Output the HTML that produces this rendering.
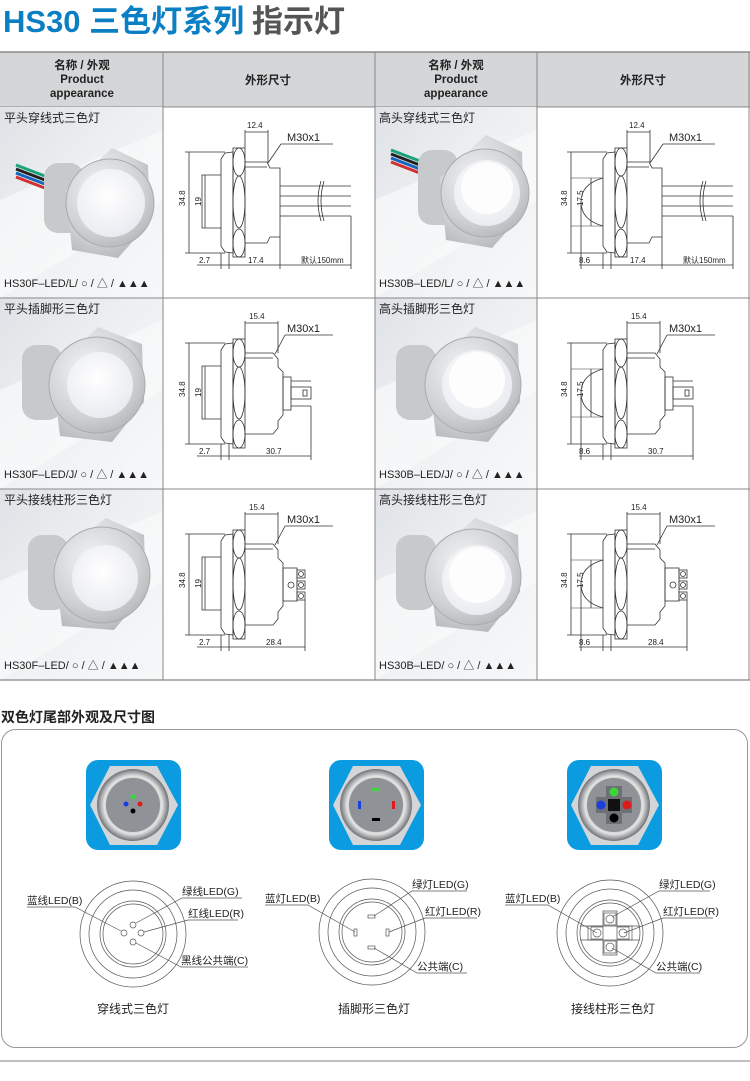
<!DOCTYPE html>
<html><head><meta charset="utf-8">
<style>
html,body{margin:0;padding:0;background:#fff;}
svg{display:block;}
text{font-family:"Liberation Sans","Noto Sans CJK SC",sans-serif;}
</style></head>
<body>
<svg width="750" height="1081" viewBox="0 0 750 1081" xmlns="http://www.w3.org/2000/svg">
<defs>
<linearGradient id="pbg" x1="0" y1="0" x2="1" y2="1">
<stop offset="0" stop-color="#dfe2e6"/><stop offset="0.45" stop-color="#eef0f2"/><stop offset="1" stop-color="#f7f8f9"/>
</linearGradient>
<radialGradient id="metal" cx="0.4" cy="0.35" r="0.8">
<stop offset="0" stop-color="#f4f4f4"/><stop offset="0.6" stop-color="#cfd1d3"/><stop offset="1" stop-color="#a9acaf"/>
</radialGradient>
<radialGradient id="lens" cx="0.45" cy="0.4" r="0.7">
<stop offset="0" stop-color="#ffffff"/><stop offset="1" stop-color="#e6e8ee"/>
</radialGradient>
<radialGradient id="ring" cx="0.5" cy="0.5" r="0.5">
<stop offset="0.6" stop-color="#8d8f92"/><stop offset="0.8" stop-color="#e5e5e5"/><stop offset="1" stop-color="#6f7275"/>
</radialGradient>
</defs>

<!-- Title -->
<text x="3" y="32" font-size="31" font-weight="bold" fill="#0a7fc4">HS30 三色灯系列</text>
<text x="252" y="32" font-size="31" font-weight="bold" fill="#555">指示灯</text>

<!-- Table header -->
<rect x="0" y="52" width="750" height="55" fill="#d4d6d8"/>
<line x1="0" y1="52" x2="750" y2="52" stroke="#777" stroke-width="1.2"/>
<line x1="0" y1="107" x2="750" y2="107" stroke="#888" stroke-width="1"/>
<g font-size="11.5" font-weight="bold" fill="#222" text-anchor="middle">
<text x="82" y="69">名称 / 外观</text><text x="82" y="83">Product</text><text x="82" y="97">appearance</text>
<text x="268" y="84">外形尺寸</text>
<text x="456" y="69">名称 / 外观</text><text x="456" y="83">Product</text><text x="456" y="97">appearance</text>
<text x="643" y="84">外形尺寸</text>
</g>

<!-- Photo cell backgrounds -->
<g>
<rect x="0" y="107" width="163" height="191" fill="url(#pbg)"/>
<rect x="375" y="107" width="162" height="191" fill="url(#pbg)"/>
<rect x="0" y="298" width="163" height="191" fill="url(#pbg)"/>
<rect x="375" y="298" width="162" height="191" fill="url(#pbg)"/>
<rect x="0" y="489" width="163" height="191" fill="url(#pbg)"/>
<rect x="375" y="489" width="162" height="191" fill="url(#pbg)"/>
<polygon points="0,200 163,130 163,200 0,298" fill="#fafbfc" opacity="0.6"/>
<polygon points="375,200 537,130 537,200 375,298" fill="#fafbfc" opacity="0.6"/>
<polygon points="0,390 163,320 163,390 0,489" fill="#fafbfc" opacity="0.6"/>
<polygon points="375,390 537,320 537,390 375,489" fill="#fafbfc" opacity="0.6"/>
<polygon points="0,581 163,511 163,581 0,680" fill="#fafbfc" opacity="0.6"/>
<polygon points="375,581 537,511 537,581 375,680" fill="#fafbfc" opacity="0.6"/>
</g>

<!-- grid lines -->
<g stroke="#888" stroke-width="1">
<line x1="0" y1="298" x2="750" y2="298"/>
<line x1="0" y1="489" x2="750" y2="489"/>
<line x1="0" y1="680" x2="750" y2="680" stroke-width="1.3"/>
<line x1="163" y1="52" x2="163" y2="680"/>
<line x1="375" y1="52" x2="375" y2="680"/>
<line x1="537" y1="52" x2="537" y2="680"/>
<line x1="749" y1="52" x2="749" y2="680"/>
</g>

<!-- Cell labels -->
<g font-size="12" fill="#222">
<text x="4" y="122">平头穿线式三色灯</text>
<text x="379" y="122">高头穿线式三色灯</text>
<text x="4" y="313">平头插脚形三色灯</text>
<text x="379" y="313">高头插脚形三色灯</text>
<text x="4" y="504">平头接线柱形三色灯</text>
<text x="379" y="504">高头接线柱形三色灯</text>
</g>
<g font-size="11" fill="#222">
<text x="4" y="287">HS30F–LED/L/ ○ / △ / ▲▲▲</text>
<text x="379" y="287">HS30B–LED/L/ ○ / △ / ▲▲▲</text>
<text x="4" y="478">HS30F–LED/J/ ○ / △ / ▲▲▲</text>
<text x="379" y="478">HS30B–LED/J/ ○ / △ / ▲▲▲</text>
<text x="4" y="669">HS30F–LED/ ○ / △ / ▲▲▲</text>
<text x="379" y="669">HS30B–LED/ ○ / △ / ▲▲▲</text>
</g>

<!-- Photos -->
<g stroke-width="3">
<line x1="16" y1="165" x2="50" y2="178" stroke="#1aa37a"/>
<line x1="16" y1="169" x2="50" y2="182" stroke="#222"/>
<line x1="16" y1="173" x2="50" y2="186" stroke="#1565c0"/>
<line x1="16" y1="177" x2="50" y2="190" stroke="#d32f2f"/>
</g>
<g stroke-width="3">
<line x1="391" y1="150" x2="425" y2="163" stroke="#1aa37a"/>
<line x1="391" y1="154" x2="425" y2="167" stroke="#222"/>
<line x1="391" y1="158" x2="425" y2="171" stroke="#1565c0"/>
<line x1="391" y1="162" x2="425" y2="175" stroke="#d32f2f"/>
</g>
<g>
<rect x="44" y="163" width="40" height="70" rx="14" fill="#c7c9cb"/>
<polygon points="112,148 148,165 150,222 118,258 72,250 66,190" fill="url(#metal)"/>
<circle cx="110" cy="203" r="44" fill="url(#metal)" stroke="#aaa"/>
<circle cx="111" cy="203" r="34" fill="url(#lens)"/>
<rect x="418" y="150" width="40" height="75" rx="14" fill="#c7c9cb"/>
<polygon points="486,135 522,152 524,212 492,248 446,240 440,178" fill="url(#metal)"/>
<circle cx="485" cy="193" r="44" fill="url(#metal)" stroke="#aaa"/>
<circle cx="487" cy="193" r="33" fill="url(#lens)"/>
<circle cx="487" cy="188" r="26" fill="#fdfdfd"/>
<rect x="22" y="345" width="40" height="75" rx="14" fill="#c7c9cb"/>
<polygon points="98,327 142,344 144,402 112,442 60,436 52,372" fill="url(#metal)"/>
<circle cx="97" cy="385" r="48" fill="url(#metal)" stroke="#aaa"/>
<circle cx="100" cy="385" r="33" fill="url(#lens)"/>
<rect x="396" y="345" width="40" height="75" rx="14" fill="#c7c9cb"/>
<polygon points="475,327 518,344 520,402 488,442 436,436 428,372" fill="url(#metal)"/>
<circle cx="473" cy="385" r="48" fill="url(#metal)" stroke="#aaa"/>
<circle cx="477" cy="385" r="35" fill="url(#lens)"/>
<circle cx="477" cy="380" r="28" fill="#fdfdfd"/>
<rect x="28" y="535" width="40" height="75" rx="14" fill="#c7c9cb"/>
<polygon points="106,518 144,535 146,592 114,630 62,626 54,560" fill="url(#metal)"/>
<circle cx="102" cy="575" r="48" fill="url(#metal)" stroke="#aaa"/>
<circle cx="105" cy="578" r="33" fill="url(#lens)"/>
<rect x="396" y="535" width="40" height="75" rx="14" fill="#c7c9cb"/>
<polygon points="475,518 518,535 520,592 488,632 436,626 428,560" fill="url(#metal)"/>
<circle cx="473" cy="577" r="48" fill="url(#metal)" stroke="#aaa"/>
<circle cx="477" cy="580" r="35" fill="url(#lens)"/>
<circle cx="477" cy="575" r="28" fill="#fdfdfd"/>
</g>

<!-- Drawings -->
<defs>
<g id="nut" fill="none" stroke="#333" stroke-width="0.8">
<path d="M62,47 L70,46 L70,147 L62,146 L58,140 L58,53 Z"/>
<rect x="70" y="42" width="12" height="109"/>
<ellipse cx="76" cy="56" rx="6" ry="14"/>
<ellipse cx="76" cy="96" rx="6" ry="26"/>
<ellipse cx="76" cy="137" rx="6" ry="14"/>
<line x1="26" y1="46" x2="26" y2="147"/>
<line x1="22" y1="46" x2="62" y2="46"/>
<line x1="22" y1="147" x2="62" y2="147"/>
</g>
<g id="body1" fill="none" stroke="#333" stroke-width="0.8">
<path d="M82,56 L104,56 L107,62 L117,62 L117,131 L107,131 L104,137 L82,137"/>
<line x1="82" y1="61" x2="104" y2="61"/>
<g><line x1="117" y1="80" x2="188" y2="80"/><line x1="117" y1="90" x2="188" y2="90"/><line x1="117" y1="100" x2="188" y2="100"/><line x1="117" y1="110" x2="188" y2="110"/></g>
<path d="M158,75 q-6,20 0,40" /><path d="M161,75 q-6,20 0,40"/>
<line x1="82" y1="42" x2="82" y2="24"/><line x1="105" y1="56" x2="105" y2="24"/><line x1="82" y1="26" x2="105" y2="26"/>
<line x1="105" y1="57" x2="118" y2="38"/><line x1="118" y1="38" x2="170" y2="38"/>
<line x1="34" y1="159" x2="188" y2="159"/>
<line x1="58" y1="147" x2="58" y2="163"/><line x1="66" y1="147" x2="66" y2="163"/><line x1="117" y1="131" x2="117" y2="163"/><line x1="188" y1="110" x2="188" y2="163"/>
</g>
<g id="body2" fill="none" stroke="#333" stroke-width="0.8">
<path d="M82,56 L110,56 L115,62 L115,70 L120,75 L120,118 L115,124 L115,131 L110,137 L82,137"/>
<line x1="82" y1="61" x2="110" y2="61"/>
<rect x="120" y="80" width="8" height="33"/>
<line x1="128" y1="84" x2="148" y2="84"/><line x1="128" y1="109" x2="148" y2="109"/>
<rect x="128" y="90" width="20" height="12"/><rect x="140" y="93" width="4" height="6"/>
<line x1="82" y1="42" x2="82" y2="24"/><line x1="115" y1="56" x2="115" y2="24"/><line x1="82" y1="26" x2="115" y2="26"/>
<line x1="112" y1="57" x2="122" y2="38"/><line x1="122" y1="38" x2="170" y2="38"/>
<line x1="34" y1="159" x2="148" y2="159"/>
<line x1="58" y1="147" x2="58" y2="163"/><line x1="66" y1="147" x2="66" y2="163"/><line x1="148" y1="109" x2="148" y2="163"/>
</g>
<g id="body3" fill="none" stroke="#333" stroke-width="0.8">
<path d="M82,56 L110,56 L115,62 L115,70 L120,75 L120,118 L115,124 L115,131 L110,137 L82,137"/>
<line x1="82" y1="61" x2="110" y2="61"/>
<rect x="120" y="80" width="14" height="33"/>
<rect x="134" y="82" width="8" height="8"/><rect x="134" y="93" width="8" height="8"/><rect x="134" y="104" width="8" height="8"/>
<circle cx="138" cy="86" r="2.5"/><circle cx="138" cy="97" r="2.5"/><circle cx="138" cy="108" r="2.5"/>
<circle cx="128" cy="97" r="3"/>
<line x1="82" y1="42" x2="82" y2="24"/><line x1="115" y1="56" x2="115" y2="24"/><line x1="82" y1="26" x2="115" y2="26"/>
<line x1="112" y1="57" x2="122" y2="38"/><line x1="122" y1="38" x2="170" y2="38"/>
<line x1="34" y1="159" x2="142" y2="159"/>
<line x1="58" y1="147" x2="58" y2="163"/><line x1="66" y1="147" x2="66" y2="163"/><line x1="142" y1="112" x2="142" y2="163"/>
</g>
<g id="flat" fill="none" stroke="#333" stroke-width="0.8">
<path d="M58,69 L39,69 L39,122 L58,122"/>
<line x1="42" y1="69" x2="42" y2="122"/>
</g>
<g id="dome" fill="none" stroke="#333" stroke-width="0.8">
<path d="M58,72 Q36,78 36,96 Q36,114 58,120"/>
<line x1="26" y1="72" x2="58" y2="72" stroke-width="0.5"/><line x1="26" y1="120" x2="58" y2="120" stroke-width="0.5"/>
<line x1="46" y1="72" x2="46" y2="120"/>
<line x1="36" y1="96" x2="36" y2="163"/>
</g>
</defs>

<g font-size="9" fill="#222">
<g transform="translate(163,106)">
<use href="#nut"/><use href="#body1"/><use href="#flat"/>
<text x="84" y="22" font-size="8">12.4</text><text x="124" y="35" font-size="11">M30x1</text>
<text x="22" y="100" transform="rotate(-90 22 100)" font-size="8">34.8</text>
<text x="38" y="100" transform="rotate(-90 38 100)" font-size="8">19</text>
<text x="36" y="157" font-size="8">2.7</text><text x="85" y="157" font-size="8">17.4</text><text x="138" y="157" font-size="8">默认150mm</text>
</g>
<g transform="translate(545,106)">
<use href="#nut"/><use href="#body1"/><use href="#dome"/>
<text x="84" y="22" font-size="8">12.4</text><text x="124" y="35" font-size="11">M30x1</text>
<text x="22" y="100" transform="rotate(-90 22 100)" font-size="8">34.8</text>
<text x="38" y="100" transform="rotate(-90 38 100)" font-size="8">17.5</text>
<text x="34" y="157" font-size="8">8.6</text><text x="85" y="157" font-size="8">17.4</text><text x="138" y="157" font-size="8">默认150mm</text>
</g>
<g transform="translate(163,297)">
<use href="#nut"/><use href="#body2"/><use href="#flat"/>
<text x="86" y="22" font-size="8">15.4</text><text x="124" y="35" font-size="11">M30x1</text>
<text x="22" y="100" transform="rotate(-90 22 100)" font-size="8">34.8</text>
<text x="38" y="100" transform="rotate(-90 38 100)" font-size="8">19</text>
<text x="36" y="157" font-size="8">2.7</text><text x="103" y="157" font-size="8">30.7</text>
</g>
<g transform="translate(545,297)">
<use href="#nut"/><use href="#body2"/><use href="#dome"/>
<text x="86" y="22" font-size="8">15.4</text><text x="124" y="35" font-size="11">M30x1</text>
<text x="22" y="100" transform="rotate(-90 22 100)" font-size="8">34.8</text>
<text x="38" y="100" transform="rotate(-90 38 100)" font-size="8">17.5</text>
<text x="34" y="157" font-size="8">8.6</text><text x="103" y="157" font-size="8">30.7</text>
</g>
<g transform="translate(163,488)">
<use href="#nut"/><use href="#body3"/><use href="#flat"/>
<text x="86" y="22" font-size="8">15.4</text><text x="124" y="35" font-size="11">M30x1</text>
<text x="22" y="100" transform="rotate(-90 22 100)" font-size="8">34.8</text>
<text x="38" y="100" transform="rotate(-90 38 100)" font-size="8">19</text>
<text x="36" y="157" font-size="8">2.7</text><text x="103" y="157" font-size="8">28.4</text>
</g>
<g transform="translate(545,488)">
<use href="#nut"/><use href="#body3"/><use href="#dome"/>
<text x="86" y="22" font-size="8">15.4</text><text x="124" y="35" font-size="11">M30x1</text>
<text x="22" y="100" transform="rotate(-90 22 100)" font-size="8">34.8</text>
<text x="38" y="100" transform="rotate(-90 38 100)" font-size="8">17.5</text>
<text x="34" y="157" font-size="8">8.6</text><text x="103" y="157" font-size="8">28.4</text>
</g>
</g>

<!-- Bottom section -->
<text x="1" y="722" font-size="14" font-weight="bold" fill="#222">双色灯尾部外观及尺寸图</text>
<rect x="1.5" y="729.5" width="746" height="318" rx="14" fill="none" stroke="#999" stroke-width="1"/>
<line x1="0" y1="1061" x2="750" y2="1061" stroke="#aaa" stroke-width="1.5"/>

<g>
<rect x="86" y="760" width="95" height="90" rx="12" fill="#0a9be0"/>
<polygon points="110,766 157,766 178,805 157,845 110,845 90,805" fill="#d3d5d7"/>
<circle cx="133" cy="805" r="36" fill="url(#ring)"/>
<circle cx="133" cy="805" r="27" fill="#8f9398"/>
<circle cx="133" cy="797" r="2.5" fill="#3bd63b"/><circle cx="126" cy="804" r="2.5" fill="#1a3fe0"/><circle cx="140" cy="804" r="2.5" fill="#e01a1a"/><circle cx="133" cy="811" r="2.5" fill="#000"/>

<rect x="329" y="760" width="95" height="90" rx="12" fill="#0a9be0"/>
<polygon points="353,766 400,766 421,805 400,845 353,845 333,805" fill="#d3d5d7"/>
<circle cx="376" cy="805" r="36" fill="url(#ring)"/>
<circle cx="376" cy="805" r="27" fill="#8f9398"/>
<rect x="372" y="788" width="8" height="3" fill="#3bd63b"/><rect x="358" y="801" width="3" height="8" fill="#1a3fe0"/><rect x="392" y="801" width="3" height="8" fill="#e01a1a"/><rect x="372" y="818" width="8" height="3" fill="#000"/>

<rect x="567" y="760" width="95" height="90" rx="12" fill="#0a9be0"/>
<polygon points="591,766 638,766 659,805 638,845 591,845 571,805" fill="#d3d5d7"/>
<circle cx="614" cy="805" r="36" fill="url(#ring)"/>
<circle cx="614" cy="805" r="27" fill="#8f9398"/>
<path d="M606,786 h16 v11 h10 v16 h-10 v11 h-16 v-11 h-10 v-16 h10 z" fill="#6d7075"/>
<rect x="608" y="799" width="12" height="12" fill="#111"/>
<circle cx="614" cy="792" r="4.5" fill="#3bd63b"/><circle cx="601" cy="805" r="4.5" fill="#1a3fe0"/><circle cx="627" cy="805" r="4.5" fill="#e01a1a"/><circle cx="614" cy="818" r="4.5" fill="#000"/>
</g>

<g fill="none" stroke="#555" stroke-width="0.7">
<circle cx="133" cy="934" r="53"/><circle cx="133" cy="934" r="44"/><circle cx="133" cy="934" r="33"/><circle cx="133" cy="934" r="30"/>
<circle cx="133" cy="925" r="3"/><circle cx="124" cy="933" r="3"/><circle cx="141" cy="933" r="3"/><circle cx="133" cy="942" r="3"/>
<polyline points="27,907 75,907 121,931"/>
<polyline points="242,898 182,898 136,923"/>
<polyline points="238,920 188,920 144,932"/>
<polyline points="248,967 181,967 136,943"/>

<circle cx="372" cy="932" r="53"/><circle cx="372" cy="932" r="44"/><circle cx="372" cy="932" r="33"/><circle cx="372" cy="932" r="30"/>
<rect x="368" y="915" width="7" height="3"/><rect x="354" y="929" width="3" height="7"/><rect x="386" y="929" width="3" height="7"/><rect x="368" y="946" width="7" height="3"/>
<polyline points="265,905 308,905 355,932"/>
<polyline points="467,891 412,891 374,916"/>
<polyline points="477,918 425,918 389,932"/>
<polyline points="467,973 417,973 374,948"/>

<circle cx="610" cy="933" r="53"/><circle cx="610" cy="933" r="44"/><circle cx="610" cy="933" r="33"/><circle cx="610" cy="933" r="30"/>
<path d="M603,911 h14 v15 h15 v14 h-15 v15 h-14 v-15 h-15 v-14 h15 z"/>
<line x1="580" y1="926" x2="640" y2="926"/><line x1="580" y1="940" x2="640" y2="940"/>
<rect x="604" y="913" width="12" height="12"/><rect x="591" y="927" width="12" height="12"/><rect x="617" y="927" width="12" height="12"/><rect x="604" y="941" width="12" height="12"/>
<circle cx="610" cy="919" r="4"/><circle cx="597" cy="933" r="4"/><circle cx="623" cy="933" r="4"/><circle cx="610" cy="947" r="4"/>
<polyline points="505,905 548,905 597,933"/>
<polyline points="710,891 659,891 612,917"/>
<polyline points="713,918 663,918 624,933"/>
<polyline points="700,973 656,973 612,948"/>
</g>
<g font-size="10.5" fill="#222">
<text x="27" y="904">蓝线LED(B)</text>
<text x="182" y="895">绿线LED(G)</text>
<text x="188" y="917">红线LED(R)</text>
<text x="181" y="964">黑线公共端(C)</text>
<text x="265" y="902">蓝灯LED(B)</text>
<text x="412" y="888">绿灯LED(G)</text>
<text x="425" y="915">红灯LED(R)</text>
<text x="417" y="970">公共端(C)</text>
<text x="505" y="902">蓝灯LED(B)</text>
<text x="659" y="888">绿灯LED(G)</text>
<text x="663" y="915">红灯LED(R)</text>
<text x="656" y="970">公共端(C)</text>
</g>
<g font-size="12" fill="#222" text-anchor="middle">
<text x="133" y="1013">穿线式三色灯</text>
<text x="374" y="1013">插脚形三色灯</text>
<text x="613" y="1013">接线柱形三色灯</text>
</g>
</svg>
</body></html>
